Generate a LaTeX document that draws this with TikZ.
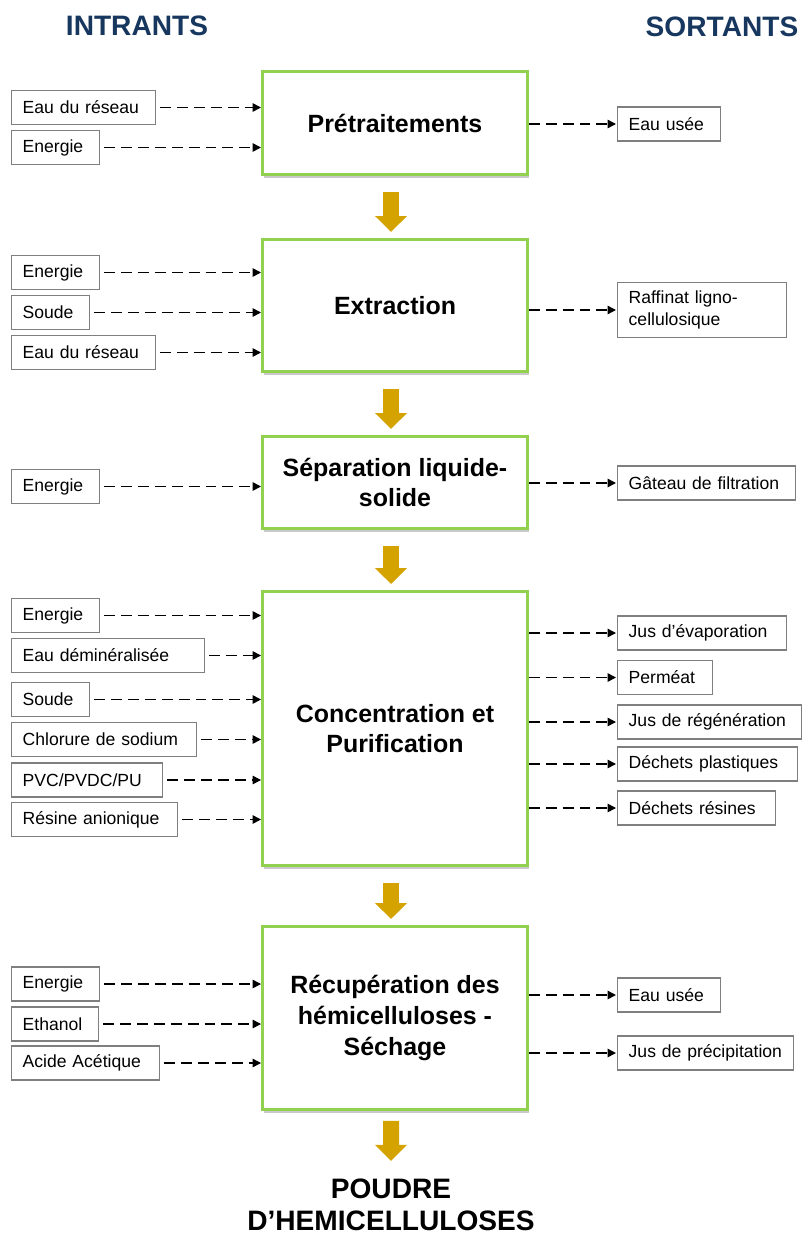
\documentclass[tikz,border=0pt]{standalone}
\usepackage{fontspec}
\setmainfont{Liberation Sans}
\usetikzlibrary{arrows.meta, shadows}
\definecolor{stepgreen}{HTML}{92D050}
\definecolor{flowgold}{HTML}{D5A300}
\definecolor{headnavy}{HTML}{17375E}
\definecolor{boxgray}{HTML}{7F7F7F}
\tikzset{
	stepnode/.style={
			rectangle,
			draw=stepgreen,
			line width=1.7pt,
			fill=white,
			minimum width=5.3cm,
			align=center,
			font=\fontsize{14.2}{17.5}\selectfont\bfseries,
			drop shadow={shadow xshift=0.03cm, shadow yshift=-0.07cm, opacity=0.3, fill=black!70}
		},
	labelnode/.style={
			rectangle,
			draw=boxgray,
			line width=0.8pt,
			fill=white,
			anchor=west,
			minimum height=0.68cm,
			inner xsep=0.22cm,
			inner ysep=0pt,
			text width=#1,
			align=left,
			font=\fontsize{10}{12.5}\selectfont
		},
	headnode/.style={
			text=headnavy,
			inner sep=0pt,
			font=\fontsize{16}{19}\selectfont\bfseries
		},
	resultnode/.style={
			inner sep=0pt,
			align=center,
			font=\fontsize{16}{18}\selectfont\bfseries
		},
	flowline/.style={
			draw=black,
			line width=0.85pt,
			dash pattern=on 6.2pt off 3.4pt,
			-{Triangle[length=0.17cm,width=0.17cm]}
		},
	bigarrow/.style={
			draw=flowgold,
			line width=0.32cm,
			shorten <=0.32cm,
			shorten >=0.12cm,
			-{Triangle[length=0.32cm,width=0.62cm]}
		}
}

\begin{document}
\begin{tikzpicture}[x=0.02cm,y=-0.02cm]
\useasboundingbox (0,0) rectangle (802,1237);

\node[headnode] (hInt) at (137,26) {INTRANTS};
\node[headnode] (hSor) at (722,27) {SORTANTS};

\node[stepnode, minimum height=2.06cm] (sPre) at (395,123) {Prétraitements};
\node[stepnode, minimum height=2.64cm] (sExt) at (395,305.5) {Extraction};
\node[stepnode, minimum height=1.84cm] (sSep) at (395,482.5) {Séparation liquide-\\solide};
\node[stepnode, minimum height=5.48cm] (sCon) at (395,728.5) {Concentration et\\Purification};
\node[stepnode, minimum height=3.66cm] (sRec) at (395,1018) {Récupération des\\hémicelluloses -\\Séchage};
\node[resultnode] (rPou) at (391,1205) {POUDRE\\D’HEMICELLULOSES};

\node[labelnode=2.44cm] (iEau1) at (11,107.5) {Eau du réseau};
\node[labelnode=1.32cm] (iEne1) at (11,147.5) {Energie};
\node[labelnode=1.32cm] (iEne2) at (11,272.5) {Energie};
\node[labelnode=1.12cm] (iSou2) at (11,312.5) {Soude};
\node[labelnode=2.44cm] (iEau2) at (11,352.5) {Eau du réseau};
\node[labelnode=1.32cm] (iEne3) at (11,486.5) {Energie};
\node[labelnode=1.32cm] (iEne4) at (11,615.5) {Energie};
\node[labelnode=3.42cm] (iEau4) at (11,655.5) {Eau déminéralisée};
\node[labelnode=1.12cm] (iSou4) at (11,699.5) {Soude};
\node[labelnode=3.26cm] (iChl4) at (11,739.5) {Chlorure de sodium};
\node[labelnode=2.58cm] (iPvc4) at (11,780) {PVC/PVDC/PU};
\node[labelnode=2.88cm] (iRes4) at (11,819.5) {Résine anionique};
\node[labelnode=1.32cm] (iEne5) at (11,984) {Energie};
\node[labelnode=1.30cm] (iEth5) at (11,1024) {Ethanol};
\node[labelnode=2.52cm] (iAci5) at (11,1063) {Acide Acétique};

\node[labelnode=1.62cm] (oEau1) at (617,124) {Eau usée};
\node[labelnode=2.94cm, minimum height=1.1cm] (oRaf2) at (617,310) {Raffinat ligno-\\cellulosique};
\node[labelnode=3.12cm] (oGat3) at (617,483) {Gâteau de filtration};
\node[labelnode=2.94cm] (oJus4) at (617,633) {Jus d’évaporation};
\node[labelnode=1.46cm] (oPer4) at (617,677.5) {Perméat};
\node[labelnode=3.24cm] (oReg4) at (617,722) {Jus de régénération};
\node[labelnode=3.16cm] (oPla4) at (617,764) {Déchets plastiques};
\node[labelnode=2.72cm] (oDec4) at (617,808) {Déchets résines};
\node[labelnode=1.62cm] (oEau5) at (617,995) {Eau usée};
\node[labelnode=3.08cm] (oPre5) at (617,1053) {Jus de précipitation};

\draw[bigarrow] ([xshift=-0.08cm]sPre.south) -- ([xshift=-0.08cm]sExt.north);
\draw[bigarrow] ([xshift=-0.08cm]sExt.south) -- ([xshift=-0.08cm]sSep.north);
\draw[bigarrow] ([xshift=-0.08cm]sSep.south) -- ([xshift=-0.08cm]sCon.north);
\draw[bigarrow] ([xshift=-0.08cm]sCon.south) -- ([xshift=-0.08cm]sRec.north);
\draw[bigarrow, shorten <=0.2cm, shorten >=0.36cm] ([xshift=-0.08cm]sRec.south) -- (rPou.north);

\foreach \src/\dst in {iEau1/sPre, iEne1/sPre, iEne2/sExt, iSou2/sExt, iEau2/sExt,
                       iEne3/sSep, iEne4/sCon, iEau4/sCon, iSou4/sCon, iChl4/sCon,
                       iPvc4/sCon, iRes4/sCon, iEne5/sRec, iEth5/sRec, iAci5/sRec}
  \draw[flowline, shorten <=0.08cm] (\src.east) -- (\src.east -| \dst.west);

\foreach \src/\dst in {sPre/oEau1, sExt/oRaf2, sSep/oGat3, sCon/oJus4, sCon/oPer4,
                       sCon/oReg4, sCon/oPla4, sCon/oDec4, sRec/oEau5, sRec/oPre5}
  \draw[flowline, shorten >=0.02cm] (\src.east |- \dst.west) -- (\dst.west);

\end{tikzpicture}
\end{document}
